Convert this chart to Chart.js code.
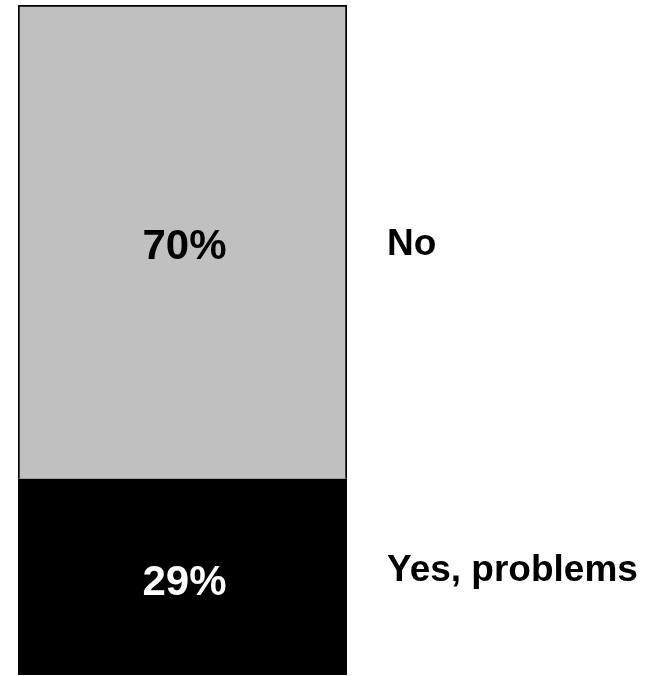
<!DOCTYPE html>
<html>
<head>
<meta charset="utf-8">
<script src="https://cdn.jsdelivr.net/npm/chart.js@4/dist/chart.umd.min.js"></script>
<style>
  html, body { margin: 0; padding: 0; background: #fff; }
  #wrap { width: 659px; height: 676px; position: relative; }
</style>
</head>
<body>
<div id="wrap"><canvas id="barChart"></canvas></div>
<script>
// --- Data ---
const categories = ['Answer'];
const seriesNames = ['Yes, problems', 'No'];
const seriesValues = [29, 70];
const seriesColors = ['#000000', '#c0c0c0'];
const valueColors = ['#ffffff', '#000000'];

// nudges for the text (px)
const valueOffsetY = [7, 6];
const nameOffsetY = [-6, 3];

const canvas = document.getElementById('barChart');

// Draws the percent inside each segment and the series name to the right
const segmentLabels = {
  id: 'segmentLabels',
  afterDatasetsDraw(chart) {
    const ctx = chart.ctx;
    const area = chart.chartArea;
    ctx.save();
    ctx.font = 'bold 42px "Liberation Sans", Arial, sans-serif';
    ctx.textAlign = 'center';
    ctx.textBaseline = 'middle';
    chart.data.datasets.forEach((ds, i) => {
      const bar = chart.getDatasetMeta(i).data[0];
      const midY = (bar.y + bar.base) / 2;
      ctx.fillStyle = valueColors[i];
      ctx.fillText(ds.data[0] + '%', bar.x + 2, midY + valueOffsetY[i]);
    });
    ctx.font = 'bold 37px "Liberation Sans", Arial, sans-serif';
    ctx.textAlign = 'left';
    ctx.fillStyle = '#000';
    chart.data.datasets.forEach((ds, i) => {
      const bar = chart.getDatasetMeta(i).data[0];
      const midY = (bar.y + bar.base) / 2;
      ctx.fillText(ds.label, area.right + 40, midY + nameOffsetY[i]);
    });
    ctx.restore();
  }
};

const total = seriesValues.reduce((a, b) => a + b, 0);

new Chart(canvas, {
  type: 'bar',
  data: {
    labels: categories,
    datasets: seriesNames.map((name, i) => ({
      label: name,
      data: [seriesValues[i]],
      backgroundColor: seriesColors[i],
      borderColor: '#000000',
      borderWidth: 2,
      barPercentage: 1,
      categoryPercentage: 1
    }))
  },
  options: {
    responsive: true,
    maintainAspectRatio: false,
    animation: false,
    layout: { padding: { left: 18, right: 312, top: 5, bottom: 1 } },
    scales: {
      x: { stacked: true, display: false },
      y: { stacked: true, display: false, min: 0, max: total }
    },
    plugins: {
      legend: { display: false },
      tooltip: { enabled: false }
    }
  },
  plugins: [segmentLabels]
});
</script>
</body>
</html>
